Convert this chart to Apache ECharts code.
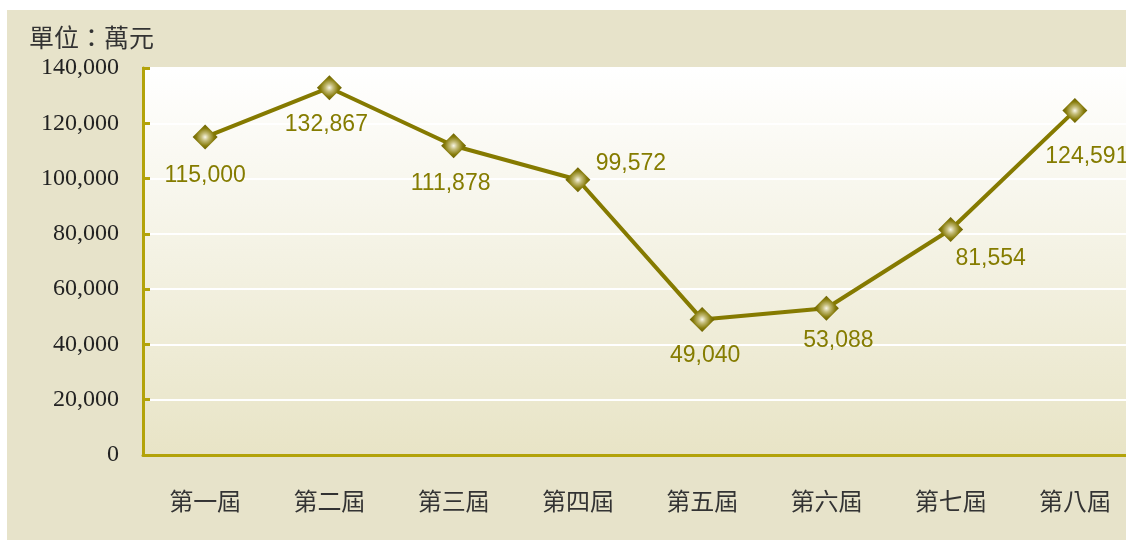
<!DOCTYPE html>
<html>
<head>
<meta charset="utf-8">
<script src="https://cdn.jsdelivr.net/npm/echarts@6/dist/echarts.min.js"></script>
<style>
  html, body { margin: 0; padding: 0; background: #ffffff; }
  #chart { position: absolute; left: 7px; top: 10px; width: 1119px; height: 530px; background: #e7e3ca; }
</style>
</head>
<body>
<div id="chart"></div>
<script>
const categories = ['第一屆', '第二屆', '第三屆', '第四屆', '第五屆', '第六屆', '第七屆', '第八屆']
const amounts = [115000, 132867, 111878, 99572, 49040, 53088, 81554, 124591]
const yTicks = [0, 20000, 40000, 60000, 80000, 100000, 120000, 140000]

// label placement per point (offset in px from the default 'bottom' spot)
const labelOffsets = [
  [0, 10], [-3, 8], [-3, 9], [53, -45], [3, 7], [12, 3], [40, 0], [12, 17]
]

const chart = echarts.init(document.getElementById('chart'))

const marker = {
  type: 'radial', x: 0.5, y: 0.5, r: 0.5,
  colorStops: [
    { offset: 0, color: '#f8f6e8' },
    { offset: 0.3, color: '#c4bc78' },
    { offset: 0.7, color: '#877c0c' },
    { offset: 1, color: '#6a6000' }
  ]
}

const option = {
  animation: false,
  title: {
    text: '單位：萬元',
    left: 17,
    top: 10,
    textStyle: { fontFamily: 'Noto Sans CJK TC', fontSize: 25, fontWeight: 'normal', color: '#333333' }
  },
  grid: {
    left: 136,
    top: 58,
    right: -11,
    bottom: 85,
    outerBoundsMode: 'none',
    containLabel: false,
    show: true,
    borderColor: '#b3a30a',
    borderWidth: 2,
    backgroundColor: {
      type: 'linear', x: 0, y: 0, x2: 0, y2: 1,
      colorStops: [
        { offset: 0, color: '#ffffff' },
        { offset: 1, color: '#e8e4c6' }
      ]
    }
  },
  xAxis: {
    type: 'category',
    data: categories,
    boundaryGap: true,
    axisLine: { lineStyle: { color: '#b3a30a', width: 3 } },
    axisTick: { inside: true, length: 7, lineStyle: { color: '#b3a30a', width: 3 } },
    axisLabel: { margin: 34, fontFamily: 'Noto Sans CJK TC', fontSize: 24, color: '#333333' },
    splitLine: { show: false }
  },
  yAxis: {
    type: 'value',
    min: yTicks[0],
    max: yTicks[yTicks.length - 1],
    interval: yTicks[1] - yTicks[0],
    axisLine: { show: true, lineStyle: { color: '#b3a30a', width: 3 } },
    axisTick: { show: true, inside: true, length: 7, lineStyle: { color: '#b3a30a', width: 3 } },
    axisLabel: {
      margin: 24,
      fontFamily: 'Liberation Serif',
      fontSize: 24,
      color: '#222222',
      formatter: v => v.toLocaleString('en-US')
    },
    splitLine: { show: true, lineStyle: { color: '#ffffff', width: 2 } }
  },
  series: [{
    type: 'line',
    data: amounts.map((v, i) => ({
      value: v,
      label: { offset: labelOffsets[i] }
    })),
    symbol: 'diamond',
    symbolSize: 25,
    lineStyle: { color: '#857a00', width: 4 },
    itemStyle: { color: marker, borderWidth: 0 },
    label: {
      show: true,
      position: 'bottom',
      fontFamily: 'Liberation Sans',
      fontSize: 23,
      color: '#857c00',
      formatter: p => p.value.toLocaleString('en-US')
    },
    z: 5
  }]
}

chart.setOption(option)
</script>
</body>
</html>
